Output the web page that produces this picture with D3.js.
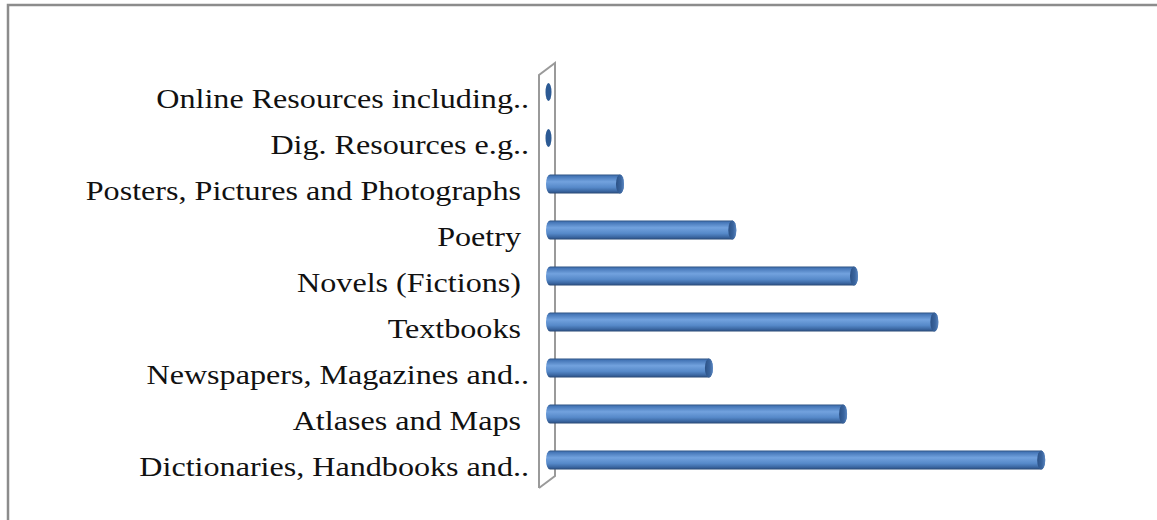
<!DOCTYPE html>
<html>
<head>
  <meta charset="utf-8">
  <title>Resources bar chart</title>
  <script src="https://d3js.org/d3.v7.min.js"></script>
  <style>
    body { margin: 0; background: #fff; }
    svg text { font-family: "Liberation Serif", "Times New Roman", serif; white-space: pre; }
  </style>
</head>
<body>
  <svg id="chart"></svg>
  <script>
    // categories, top to bottom as drawn
    const categories = [
      "Online Resources including..",
      "Dig. Resources e.g..",
      "Posters, Pictures and Photographs ",
      "Poetry ",
      "Novels (Fictions) ",
      "Textbooks ",
      "Newspapers, Magazines and..",
      "Atlases and Maps ",
      "Dictionaries, Handbooks and.."
    ];
    const values = [0, 0, 10, 24.4, 40, 50.3, 21.4, 38.6, 64];

    const width = 1157, height = 520;

    const svg = d3.select("#chart")
      .attr("width", width)
      .attr("height", height);

    // frame (only top and left edges show in the crop)
    svg.append("rect")
      .attr("x", 8).attr("y", 5)
      .attr("width", width + 20).attr("height", height + 20)
      .attr("fill", "none")
      .attr("stroke", "#8c8c8c")
      .attr("stroke-width", 2.5);

    const y = d3.scaleBand()
      .domain(categories)
      .range([69, 483]);

    const x = d3.scaleLinear()
      .domain([0, 70])
      .range([546, 1092]);

    // gradients for the cylinders
    const defs = svg.append("defs");
    const body = defs.append("linearGradient")
      .attr("id", "cyl").attr("x1", 0).attr("y1", 0).attr("x2", 0).attr("y2", 1);
    [[0, "#2c5283"], [0.1, "#4677b8"], [0.38, "#72a2de"], [0.68, "#5689c9"], [0.88, "#3a66a1"], [1, "#284774"]]
      .forEach(s => body.append("stop").attr("offset", s[0]).attr("stop-color", s[1]));
    const cap = defs.append("linearGradient")
      .attr("id", "cap").attr("x1", 0).attr("y1", 0).attr("x2", 1).attr("y2", 0);
    [[0, "#2b5186"], [0.6, "#3a659f"], [1, "#5b86bf"]]
      .forEach(s => cap.append("stop").attr("offset", s[0]).attr("stop-color", s[1]));

    // axis wall (thin 3D panel)
    const wx = 539, depth = 16, rise = 12;
    svg.append("path")
      .attr("d", `M${wx},488 L${wx},75 L${wx + depth},${75 - rise} L${wx + depth},${488 - rise} L${wx},488`)
      .attr("fill", "none")
      .attr("stroke", "#9a9a9a")
      .attr("stroke-width", 2);

    // labels (the source rendering is stretched sideways)
    svg.selectAll(".label")
      .data(categories)
      .join("text")
      .attr("class", "label")
      .attr("transform", d => `translate(529, ${y(d) + y.bandwidth() / 2 + 16}) scale(1.19, 1)`)
      .attr("text-anchor", "end")
      .attr("font-size", 27)
      .attr("fill", "#111")
      .text(d => d);

    const h = 19, rx = 4;
    const bars = svg.selectAll(".bar")
      .data(categories.map((c, i) => ({ c, v: values[i] })))
      .join("g")
      .attr("class", "bar")
      .attr("transform", d => `translate(0, ${y(d.c) + y.bandwidth() / 2})`);

    bars.filter(d => d.v > 0).append("rect")
      .attr("x", x(0))
      .attr("y", -h / 2)
      .attr("width", d => x(d.v) - x(0))
      .attr("height", h)
      .attr("rx", rx).attr("ry", h / 2)
      .attr("fill", "url(#cyl)");

    bars.filter(d => d.v > 0).append("ellipse")
      .attr("cx", d => x(d.v) - rx)
      .attr("cy", 0)
      .attr("rx", rx).attr("ry", h / 2)
      .attr("fill", "url(#cap)");

    // zero values show just the end disc
    bars.filter(d => d.v === 0).append("ellipse")
      .attr("cx", x(0) + 2.5)
      .attr("cy", 0)
      .attr("rx", 3).attr("ry", h / 2 - 0.5)
      .attr("fill", "#2c5a94");
  </script>
</body>
</html>
